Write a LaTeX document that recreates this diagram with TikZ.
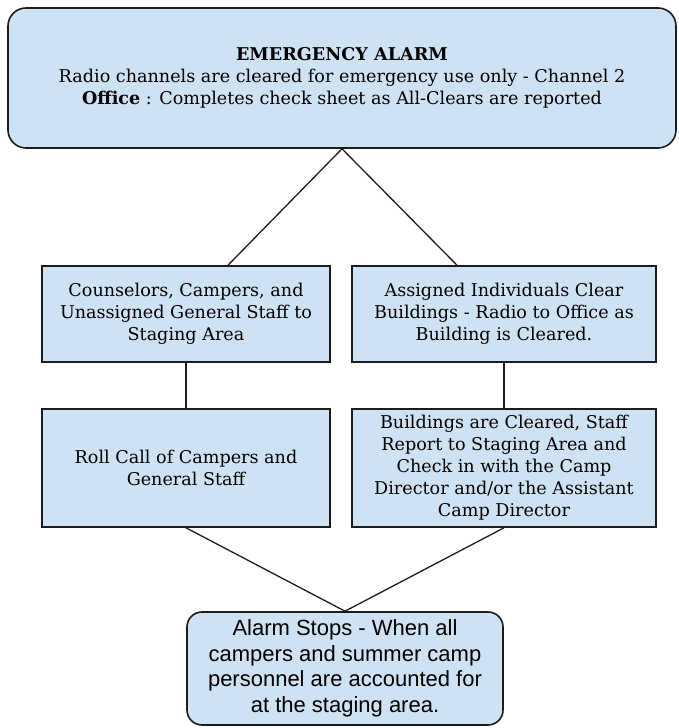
\documentclass[tikz,border=0pt]{standalone}
\usepackage{fontspec}
\setmainfont{DejaVu Serif}
\newfontfamily\plainsans{Liberation Sans}
\usepackage{xcolor}
\usepackage{tikz}
\usetikzlibrary{calc}
\definecolor{boxfill}{HTML}{CFE2F3}
\definecolor{edge}{HTML}{1C1C1C}
\tikzset{
  stage/.style={draw=edge, fill=boxfill, line width=1.6pt, align=center,
    inner sep=0pt, font=\fontsize{17.6}{22}\selectfont},
  roundstage/.style={stage, rounded corners=18pt},
  link/.style={draw=edge, line width=1.3pt}
}

\begin{document}
\begin{tikzpicture}[x=1pt, y=1pt]
  \useasboundingbox (0,0) rectangle (679,728);

  \node[roundstage, minimum width=668pt, minimum height=140pt] (alarm) at (342,650)
    {\textbf{EMERGENCY ALARM}\\
     Radio channels are cleared for emergency use only - Channel 2\\
     \textbf{Office} : Completes check sheet as All-Clears are reported};

  \node[stage, minimum width=288pt, minimum height=96pt] (muster) at (186,414)
    {Counselors, Campers, and\\ Unassigned General Staff to\\ Staging Area};
  \node[stage, minimum width=304pt, minimum height=96pt] (clear) at (504,414)
    {Assigned Individuals Clear\\ Buildings - Radio to Office as\\ Building is Cleared.};

  \node[stage, minimum width=288pt, minimum height=118pt] (rollcall) at (186,260)
    {Roll Call of Campers and\\ General Staff};
  \node[stage, minimum width=304pt, minimum height=118pt] (report) at (504,260)
    {Buildings are Cleared, Staff\\ Report to Staging Area and\\ Check in with the Camp\\
     Director and/or the Assistant\\ Camp Director};

  \node[roundstage, rounded corners=15pt, minimum width=316pt, minimum height=113pt,
    font=\plainsans\fontsize{22}{25.5}\selectfont] (stops) at (345,59.5)
    {Alarm Stops - When all\\ campers and summer camp\\ personnel are accounted for\\
     at the staging area.};

  \draw[link] (alarm.south) -- ([xshift=42pt]muster.north);
  \draw[link] (alarm.south) -- ([xshift=-47pt]clear.north);
  \draw[link] (muster) -- (rollcall);
  \draw[link] (clear) -- (report);
  \draw[link] (rollcall.south) -- (stops.north);
  \draw[link] (report.south) -- (stops.north);
\end{tikzpicture}
\end{document}
